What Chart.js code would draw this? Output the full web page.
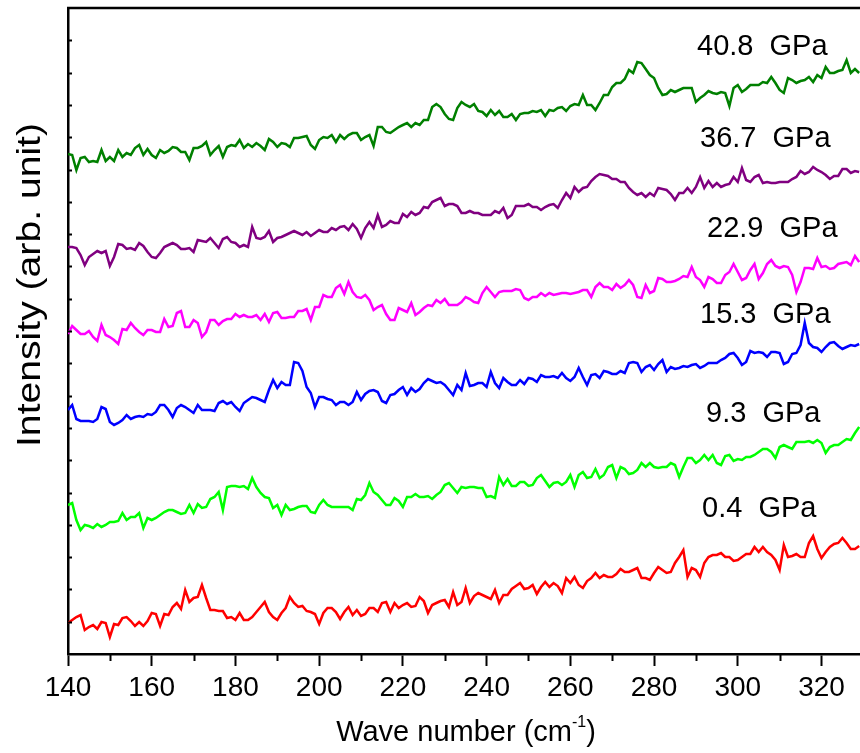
<!DOCTYPE html>
<html>
<head>
<meta charset="utf-8">
<script src="https://cdn.jsdelivr.net/npm/chart.js@4.4.1/dist/chart.umd.min.js"></script>
<style>
  html, body { margin: 0; padding: 0; background: #fff; }
</style>
</head>
<body>
<canvas id="myChart" width="860" height="753"></canvas>
<script>
// Raman spectra under pressure, stacked (intensity in arb. unit)

// wave number (cm-1)
var waveNumber = [
    140,141,142,143,144,145,146,147,148,149,
    150,151,152,153,154,155,156,157,158,159,
    160,161,162,163,164,165,166,167,168,169,
    170,171,172,173,174,175,176,177,178,179,
    180,181,182,183,184,185,186,187,188,189,
    190,191,192,193,194,195,196,197,198,199,
    200,201,202,203,204,205,206,207,208,209,
    210,211,212,213,214,215,216,217,218,219,
    220,221,222,223,224,225,226,227,228,229,
    230,231,232,233,234,235,236,237,238,239,
    240,241,242,243,244,245,246,247,248,249,
    250,251,252,253,254,255,256,257,258,259,
    260,261,262,263,264,265,266,267,268,269,
    270,271,272,273,274,275,276,277,278,279,
    280,281,282,283,284,285,286,287,288,289,
    290,291,292,293,294,295,296,297,298,299,
    300,301,302,303,304,305,306,307,308,309,
    310,311,312,313,314,315,316,317,318,319,
    320,321,322,323,324,325,326,327,328,329
];

// 40.8 GPa
var p408 = [
    500,499,484,496,497,492,493,492,504,493,
    497,493,504,497,501,499,506,509,499,505,
    499,496,504,501,503,507,506,502,502,494,
    506,506,508,512,499,504,508,497,507,509,
    508,514,506,510,507,511,508,504,515,512,
    507,511,510,507,516,516,517,518,509,505,
    514,517,516,519,512,519,515,519,521,521,
    514,517,519,508,527,527,522,521,524,527,
    529,531,527,531,529,534,534,547,550,547,
    540,535,534,546,552,549,547,550,543,542,
    538,544,539,543,537,537,540,534,540,541,
    541,543,542,544,538,544,543,546,547,543,
    548,550,549,559,549,549,544,551,559,559,
    567,571,571,575,584,581,592,591,585,579,
    576,566,559,560,564,562,564,566,566,566,
    552,556,559,563,561,560,562,561,548,566,
    569,562,565,569,569,569,572,571,577,571,
    564,561,576,574,571,573,574,577,572,579,
    576,587,581,581,583,584,594,581,585,581
];

// 36.7 GPa
var p367 = [
    407,407,406,399,389,397,400,403,401,403,
    388,397,410,409,405,406,404,411,408,402,
    397,396,401,407,409,411,409,405,405,406,
    402,414,413,412,416,411,406,415,417,412,
    411,407,409,407,427,416,415,417,423,412,
    416,417,419,421,423,421,419,422,418,421,
    424,422,422,426,424,427,428,424,430,425,
    416,426,432,426,439,427,429,433,431,431,
    440,437,442,439,441,447,446,452,454,456,
    448,450,450,448,441,441,443,441,441,439,
    439,439,443,441,446,436,439,448,448,448,
    450,447,447,444,447,449,450,446,454,461,
    456,467,462,466,467,473,477,480,479,478,
    475,475,472,472,466,462,459,461,457,461,
    458,466,465,464,460,454,461,461,466,461,
    467,477,466,473,467,471,467,469,470,477,
    472,486,474,472,477,479,471,472,471,471,
    472,472,472,475,477,483,480,482,487,484,
    482,479,475,478,478,485,485,481,483,482
];

// 22.9 GPa
var p229 = [
    320,328,324,320,320,323,317,313,329,319,
    317,314,310,325,324,331,326,322,319,324,
    324,322,322,335,327,328,341,343,327,327,
    334,331,317,322,334,334,329,333,335,335,
    340,337,339,337,337,339,334,340,332,341,
    342,336,336,337,337,343,343,345,334,347,
    347,359,357,357,366,369,360,372,362,357,
    356,359,354,344,347,349,340,334,334,346,
    344,342,351,339,342,346,349,348,354,351,
    355,349,349,349,352,357,355,352,351,361,
    367,362,357,362,363,363,363,365,364,356,
    354,357,357,361,358,361,359,360,361,361,
    360,361,362,364,364,357,367,371,367,367,
    364,370,366,369,374,369,357,356,369,361,
    363,376,375,372,372,373,375,378,377,387,
    377,374,367,377,375,371,371,379,382,390,
    382,374,376,384,390,375,381,390,394,388,
    386,388,387,379,362,372,386,386,385,396,
    387,388,385,386,390,391,392,389,398,392
];

// 15.3 GPa
var p153 = [
    244,249,235,233,233,233,232,235,247,245,
    232,229,231,234,239,235,237,238,237,240,
    239,242,249,249,244,237,246,249,247,244,
    241,249,244,244,244,243,251,253,250,252,
    247,243,251,254,257,256,254,252,264,274,
    266,272,269,269,292,291,283,267,261,247,
    257,257,255,254,249,252,252,249,252,262,
    254,260,263,264,262,253,251,259,260,264,
    267,259,266,262,265,271,275,273,271,272,
    269,264,259,269,264,281,268,269,271,271,
    267,282,271,266,276,272,269,269,274,270,
    276,275,272,279,277,277,278,276,281,276,
    273,277,286,277,269,279,280,276,283,282,
    280,280,283,281,291,292,291,282,287,289,
    284,290,294,282,287,285,286,288,287,289,
    290,286,288,291,291,291,294,296,300,301,
    296,289,292,303,301,302,301,297,302,302,
    301,290,292,300,301,309,331,311,307,306,
    302,307,311,312,308,305,307,309,308,310
];

// 9.3 GPa
var p93 = [
    149,151,134,124,129,128,126,130,127,129,
    132,132,133,141,134,137,137,141,126,136,
    134,136,139,142,144,144,142,140,141,149,
    141,150,146,147,155,157,162,144,167,168,
    168,167,168,165,176,167,161,157,156,146,
    149,139,149,144,145,147,148,148,142,141,
    149,154,149,147,147,147,147,147,144,155,
    154,159,171,162,159,154,149,149,156,153,
    147,157,157,160,157,157,158,155,159,162,
    169,171,166,161,167,166,167,167,166,166,
    157,158,156,177,169,175,168,168,172,172,
    168,169,176,179,173,167,171,172,169,172,
    179,167,179,182,176,177,185,176,179,187,
    189,176,187,185,180,181,184,191,187,191,
    187,186,187,187,191,189,177,187,196,196,
    191,194,199,194,199,191,189,198,199,193,
    195,194,197,197,199,202,205,205,202,196,
    207,209,207,205,212,212,212,213,211,214,
    211,201,207,209,209,212,215,214,221,227
];

// 0.4 GPa
var p04 = [
    31,34,37,39,24,27,29,25,32,31,
    17,30,29,36,37,33,28,32,28,33,
    41,40,28,40,39,47,51,45,64,52,
    56,57,69,56,44,44,43,43,36,37,
    34,41,34,34,37,42,47,52,42,37,
    34,41,46,57,51,47,48,43,42,40,
    30,41,46,46,42,35,42,47,39,44,
    38,40,46,46,42,51,52,42,51,46,
    49,51,47,48,57,53,41,49,51,53,
    54,47,62,49,52,66,51,58,61,59,
    57,55,64,51,59,59,65,68,71,65,
    66,69,60,67,72,67,71,68,61,76,
    71,77,69,66,73,76,81,76,79,77,
    77,80,85,82,82,84,86,76,76,74,
    81,87,84,81,82,91,97,104,77,86,
    84,77,91,97,99,99,101,97,97,93,
    94,97,100,100,107,102,107,102,99,94,
    84,109,97,98,100,97,97,111,118,105,
    96,102,107,110,111,116,111,105,105,108
];

var pressureLabels = ['40.8  GPa', '36.7  GPa', '22.9  GPa', '15.3  GPa', '9.3  GPa', '0.4  GPa'];
var seriesColors = ['#008000', '#800080', '#ff00ff', '#0000ff', '#00ff00', '#ff0000'];
var xMajorTicks = [140, 160, 180, 200, 220, 240, 260, 280, 300, 320];
var xMinorTicks = [150, 170, 190, 210, 230, 250, 270, 290, 310];

var FONT = "'Liberation Sans', Arial, sans-serif";
var yMax = 646;
var yStep = 32.3;

function toPoints(vals) {
    return waveNumber.map(function (x, i) { return {x: x, y: vals[i]}; });
}

var allSeries = [p408, p367, p229, p153, p93, p04];

// label positions in pixels (left, baseline)
var labelPos = [[697, 55], [700, 147], [707, 237], [700, 323], [706, 422], [702, 517]];

var decor = {
    id: 'decor',
    afterDraw: function (chart) {
        var ctx = chart.ctx;
        var a = chart.chartArea;
        var xs = chart.scales.x, ys = chart.scales.y;
        ctx.save();
        ctx.strokeStyle = '#000';
        ctx.fillStyle = '#000';

        // top frame line
        ctx.lineWidth = 2.5;
        ctx.beginPath();
        ctx.moveTo(a.left - 1, a.top);
        ctx.lineTo(a.right, a.top);
        ctx.stroke();

        // minor x ticks
        ctx.lineWidth = 2;
        xMinorTicks.forEach(function (v) {
            var px = Math.round(xs.getPixelForValue(v)) + 0.5;
            ctx.beginPath();
            ctx.moveTo(px, a.bottom);
            ctx.lineTo(px, a.bottom + 7);
            ctx.stroke();
        });

        // y ticks (inside)
        for (var k = 1; k < 20; k++) {
            var py = Math.round(ys.getPixelForValue(k * yStep)) + 0.5;
            ctx.beginPath();
            ctx.moveTo(a.left, py);
            ctx.lineTo(a.left + 4, py);
            ctx.stroke();
        }

        // pressure labels
        ctx.font = '29px ' + FONT;
        ctx.textAlign = 'left';
        ctx.textBaseline = 'alphabetic';
        pressureLabels.forEach(function (t, i) {
            ctx.fillText(t, labelPos[i][0], labelPos[i][1]);
        });

        // x title with superscript
        var main1 = 'Wave number (cm', sup = '-1', main2 = ')';
        ctx.font = '29px ' + FONT;
        var w1 = ctx.measureText(main1).width;
        var w3 = ctx.measureText(main2).width;
        ctx.font = '16px ' + FONT;
        var w2 = ctx.measureText(sup).width;
        var x0 = 466 - (w1 + w2 + w3) / 2;
        ctx.font = '29px ' + FONT;
        ctx.fillText(main1, x0, 741);
        ctx.font = '16px ' + FONT;
        ctx.fillText(sup, x0 + w1, 727);
        ctx.font = '29px ' + FONT;
        ctx.fillText(main2, x0 + w1 + w2, 741);

        // y title
        ctx.translate(40, 285);
        ctx.rotate(-Math.PI / 2);
        ctx.font = '34px ' + FONT;
        ctx.textAlign = 'center';
        var yt = 'Intensity (arb. unit)';
        var wy = ctx.measureText(yt).width;
        ctx.scale(324 / wy, 1);
        ctx.fillText(yt, 0, 0);
        ctx.restore();
    }
};

var ctx = document.getElementById('myChart').getContext('2d');
var chart = new Chart(ctx, {
    type: 'line',
    data: {
        datasets: allSeries.map(function (vals, i) {
            return {
                label: pressureLabels[i],
                data: toPoints(vals),
                borderColor: seriesColors[i],
                borderWidth: 2.5,
                pointRadius: 0,
                tension: 0,
                fill: false
            };
        })
    },
    options: {
        responsive: false,
        animation: false,
        layout: { padding: { top: 8, right: 0, left: 0, bottom: 0 } },
        plugins: {
            legend: { display: false },
            tooltip: { enabled: false }
        },
        scales: {
            x: {
                type: 'linear',
                position: 'bottom',
                min: 140,
                max: 329.2,
                afterBuildTicks: function (s) {
                    s.ticks = xMajorTicks.map(function (v) { return {value: v}; });
                },
                afterFit: function (s) { s.height = 99; },
                ticks: {
                    font: { family: FONT, size: 28 },
                    color: '#000',
                    padding: 5,
                    maxRotation: 0,
                    autoSkip: false
                },
                grid: {
                    drawOnChartArea: false,
                    tickLength: 12,
                    tickWidth: 2,
                    tickColor: '#000'
                },
                border: { color: '#000', width: 2.5 }
            },
            y: {
                min: 0,
                max: yMax,
                afterFit: function (s) { s.width = 68; },
                ticks: { display: false },
                grid: { display: false },
                border: { color: '#000', width: 2.5 }
            }
        }
    },
    plugins: [decor]
});
</script>
</body>
</html>
